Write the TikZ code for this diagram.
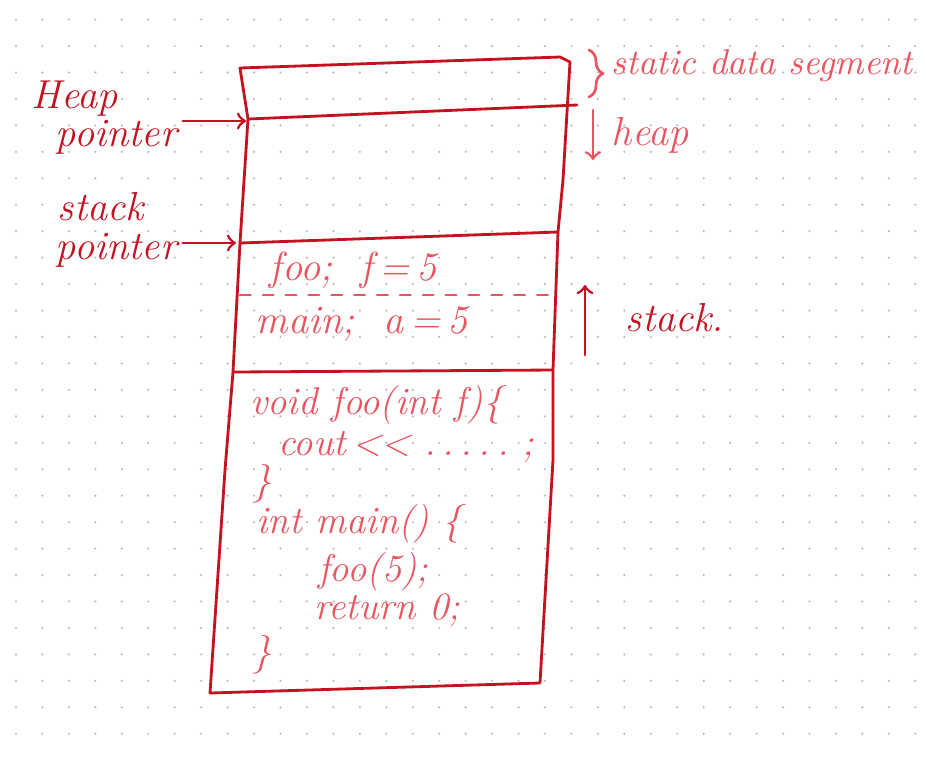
\documentclass[tikz,border=0pt]{standalone}
\usetikzlibrary{arrows,decorations.pathreplacing}
\definecolor{inkred}{RGB}{196,18,32}
\definecolor{penred}{RGB}{234,84,96}
\definecolor{griddot}{RGB}{188,188,188}

\begin{document}
\begin{tikzpicture}[x=0.01cm,y=-0.01cm,
  every node/.style={font=\fontsize{11.5}{13}\selectfont\itshape, inner sep=1.5pt},
  ink/.style={draw=inkred, line width=0.8pt, line cap=round, line join=round},
  pencil/.style={draw=penred, line width=0.75pt, line cap=round, line join=round},
  hand/.style={text=inkred, anchor=west},
  pen/.style={text=penred, anchor=west},
  code/.style={pen, font=\fontsize{11}{12}\selectfont\itshape, inner sep=1pt}]
  \useasboundingbox (0,0) rectangle (926,756);
  \fill[white] (0,0) rectangle (926,756);
  \foreach \i in {0,...,34}
    \foreach \j in {0,...,27}
      \fill[griddot] (16+26.45*\i,19.6+26.45*\j) circle (0.35pt);

  % memory block
  \coordinate (topL) at (240,68);
  \coordinate (heapL) at (248,119);  \coordinate (heapR) at (577,105);
  \coordinate (stackL) at (240,243); \coordinate (stackR) at (558,232);
  \coordinate (codeL) at (233,372);  \coordinate (codeR) at (553,370);
  \draw[ink] (topL) -- (560,57) -- (570,62) -- (563,180) -- (stackR) -- (codeR)
    -- (553,460) -- (540,683) -- (210,693) -- (225,470) -- (codeL) -- (stackL) -- (heapL) -- cycle;
  \draw[ink] (heapL) -- (heapR);
  \draw[ink] (stackL) -- (stackR);
  \draw[pencil, dash pattern=on 3pt off 3.5pt] (240,295) -- (550,295);
  \draw[ink] (codeL) -- (codeR);

  % pointers
  \node[hand] (heapword) at (26,99) {Heap};
  \node[hand] (heapptr) at (50,137) {pointer};
  \coordinate (hp) at (246,121);
  \draw[ink,->] (heapptr.east |- hp) -- (hp);

  \node[hand] (stackword) at (52,207) {stack};
  \node[hand] (stackptr) at (50,250) {pointer};
  \coordinate (sp) at (236,243);
  \draw[ink,->] (stackptr.east |- sp) -- (sp);

  % segments
  \draw[pencil, decorate, decoration={brace, amplitude=4pt}] (589,50) -- (589,97);
  \node[pen, font=\fontsize{10.2}{12}\selectfont\itshape] (staticlbl) at (606,66) {static data segment};
  \coordinate (heapgo) at (593,110); \coordinate (heapend) at (593,160);
  \draw[pencil,->] (heapgo) -- (heapend);
  \node[pen] (heaplbl) at (606,135) {heap};
  \coordinate (stackgo) at (585,355); \coordinate (stackend) at (585,285);
  \draw[ink,->] (stackgo) -- (stackend);
  \node[hand] (stacklbl) at (620,318) {stack.};

  % frames
  \node[pen] (fooframe) at (264,270) {foo;\ \ f\,=\,5};
  \node[pen] (mainframe) at (250,324) {main;\ \ a\,=\,5};

  % code
  \node[code] (line1) at (246,405) {void foo(int f)\{};
  \node[code] (line2) at (274,447) {cout\,{<}{<}\ .\,.\,.\,.\,.\ ;};
  \node[code] (line3) at (248,484) {\}};
  \node[code] (line4) at (252,524) {int main() \{};
  \node[code] (line5) at (314,572) {foo(5);};
  \node[code] (line6) at (310,610) {return 0;};
  \node[code] (line7) at (248,655) {\}};
\end{tikzpicture}
\end{document}
